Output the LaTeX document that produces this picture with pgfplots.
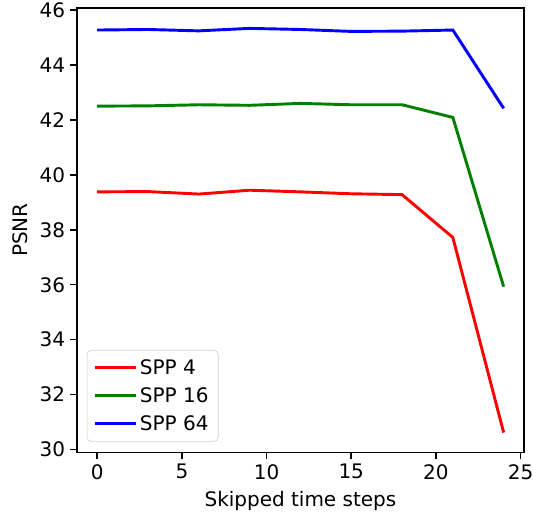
\documentclass[border=0pt]{standalone}
\usepackage{fontspec}
\setmainfont{DejaVu Sans}
\usepackage{pgfplots}
\pgfplotsset{compat=1.18}
\usetikzlibrary{calc}
\definecolor{mplgreen}{rgb}{0,0.5,0}

\begin{document}
\begin{tikzpicture}
\begin{axis}[
    scale only axis,
    width=322pt, height=320pt,
    xmin=-1.2, xmax=25.2,
    ymin=29.9, ymax=46.07,
    xtick={0,5,10,15,20,25},
    ytick={30,32,34,36,38,40,42,44,46},
    tick align=outside,
    tick pos=left,
    major tick length=5pt,
    tick style={black, line width=1.1pt},
    axis line style={line width=1.1pt},
    /pgf/number format/assume math mode=true,
    ticklabel style={font=\fontsize{14.4}{17}\selectfont},
    label style={font=\fontsize{14.4}{17}\selectfont},
    xlabel={Skipped time steps},
    ylabel={PSNR},
    xlabel style={yshift=-2pt},
    ylabel style={yshift=2pt},
    legend cell align=left,
    legend style={font=\fontsize{14.4}{17}\selectfont, draw=black!20, rounded corners=3pt,
                  at={(0.022,0.024)}, anchor=south west, inner xsep=5pt, inner ysep=4.5pt,
                  row sep=4pt,
                  /tikz/every even column/.append style={column sep=0pt}},
    legend image code/.code={\draw[#1] (0pt,0pt) -- (29pt,0pt);},
]
\addplot[red, line width=2.1pt] coordinates {
  (0,39.38) (3,39.39) (6,39.30) (9,39.44) (12,39.38) (15,39.31) (18,39.28) (21,37.72) (24,30.62)};
\addplot[mplgreen, line width=2.1pt] coordinates {
  (0,42.50) (3,42.51) (6,42.55) (9,42.53) (12,42.60) (15,42.55) (18,42.55) (21,42.09) (24,35.93)};
\addplot[blue, line width=2.1pt] coordinates {
  (0,45.27) (3,45.29) (6,45.24) (9,45.33) (12,45.29) (15,45.22) (18,45.23) (21,45.27) (24,42.42)};
\legend{SPP 4, SPP 16, SPP 64}
\end{axis}
\pgfresetboundingbox
\path[use as bounding box] ($(current axis.south west)+(-55.4pt,-46pt)$) rectangle ($(current axis.north east)+(6.5pt,5.8pt)$);
\end{tikzpicture}
\end{document}
